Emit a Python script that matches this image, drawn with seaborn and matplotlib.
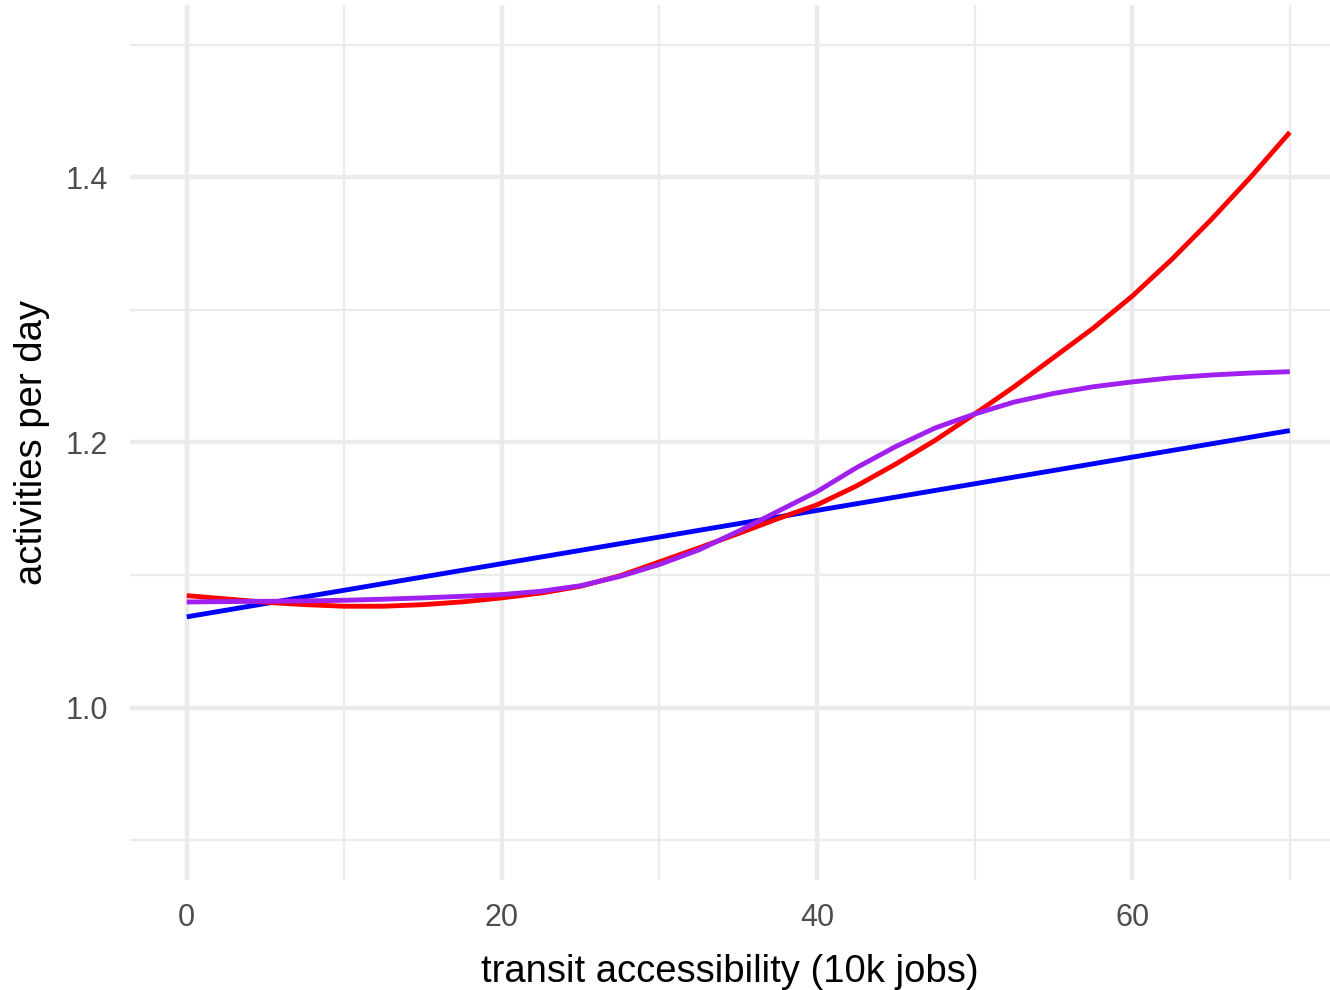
import numpy as np
import pandas as pd
import seaborn as sns
import matplotlib.pyplot as plt
from matplotlib.ticker import MultipleLocator

# transit accessibility (10k jobs)
access = [0, 2.5, 5, 7.5, 10, 12.5, 15, 17.5, 20, 22.5, 25, 27.5, 30, 32.5,
          35, 37.5, 40, 42.5, 45, 47.5, 50, 52.5, 55, 57.5, 60, 62.5, 65, 67.5, 70]

# polynomial fit
poly_fit = [1.0845, 1.0820, 1.0795, 1.0777, 1.0765, 1.0765, 1.0777, 1.0798,
            1.0828, 1.0865, 1.0916, 1.0995, 1.1100, 1.1205, 1.1313, 1.1425,
            1.1530, 1.1672, 1.1838, 1.2017, 1.2215, 1.2420, 1.2640, 1.2860,
            1.3104, 1.3380, 1.3680, 1.4000, 1.4340]
# smoothed fit
smooth_fit = [1.0797, 1.0800, 1.0802, 1.0805, 1.0810, 1.0818, 1.0828, 1.0840,
              1.0853, 1.0878, 1.0920, 1.0990, 1.1080, 1.1190, 1.1330, 1.1480,
              1.1630, 1.1810, 1.1970, 1.2110, 1.2215, 1.2305, 1.2370, 1.2420,
              1.2457, 1.2488, 1.2509, 1.2524, 1.2534]
# linear fit
linear_x = [0, 70]
linear_fit = [1.0685, 1.209]

sns.set_theme(style="white")
plt.rcParams['font.family'] = ['Liberation Sans', 'DejaVu Sans']

fig = plt.figure(figsize=(13.3, 9.9), dpi=100)
ax = fig.add_axes([130 / 1330, 1 - 880 / 990, 1200 / 1330, 875 / 990])

df_poly = pd.DataFrame({"x": access, "y": poly_fit})
df_smooth = pd.DataFrame({"x": access, "y": smooth_fit})
df_lin = pd.DataFrame({"x": linear_x, "y": linear_fit})

line_kw = dict(lw=3.5, solid_joinstyle="round", solid_capstyle="butt", ax=ax)
sns.lineplot(data=df_lin, x="x", y="y", color="#0000FF", zorder=3, **line_kw)
sns.lineplot(data=df_poly, x="x", y="y", color="#FF0000", zorder=4, **line_kw)
sns.lineplot(data=df_smooth, x="x", y="y", color="#A020F0", zorder=5, **line_kw)

ax.set_xlim(-3.6, 72.55)
ax.set_ylim(0.87, 1.53)

ax.xaxis.set_major_locator(MultipleLocator(20))
ax.xaxis.set_minor_locator(MultipleLocator(10))
ax.set_yticks([1.0, 1.2, 1.4])
ax.set_yticks([0.9, 1.1, 1.3, 1.5], minor=True)
ax.set_yticklabels(["1.0", "1.2", "1.4"])

ax.grid(which="major", color="#EBEBEB", lw=3.2)
ax.grid(which="minor", color="#EBEBEB", lw=1.6)
ax.set_axisbelow(True)
for s in ax.spines.values():
    s.set_visible(False)

ax.tick_params(which="both", length=0)
ax.tick_params(axis="x", pad=16.5, labelsize=22, labelcolor="#4D4D4D")
ax.tick_params(axis="y", pad=16, labelsize=22, labelcolor="#4D4D4D")

ax.set_xlabel("transit accessibility (10k jobs)", fontsize=27.5, color="black", labelpad=15)
ax.set_ylabel("activities per day", fontsize=27.5, color="black", labelpad=11)

fig.savefig("out.png", dpi=100, facecolor="white")
